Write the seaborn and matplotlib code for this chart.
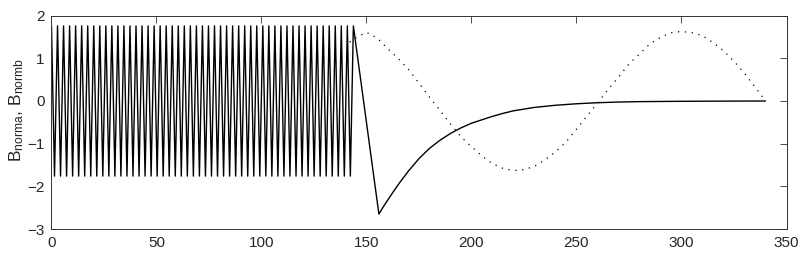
"""
B_norma / B_normb 曲线图
"""

import matplotlib
matplotlib.use("Agg")
import matplotlib.pyplot as plt
import pandas as pd
import seaborn as sns

# 实线振荡段: 峰值与谷值所在的 x
osc_peak_x = [0, 2.88, 5.75, 8.63, 11.5, 14.38, 17.25, 20.13, 23, 25.88,
              28.75, 31.63, 34.5, 37.38, 40.25, 43.13, 46, 48.88, 51.75,
              54.63, 57.5, 60.38, 63.25, 66.13, 69, 71.88, 74.75, 77.63,
              80.5, 83.38, 86.25, 89.13, 92, 94.88, 97.75, 100.63, 103.5,
              106.38, 109.25, 112.13, 115, 117.88, 120.75, 123.63, 126.5,
              129.38, 132.25, 135.13, 138, 140.88, 143.75]
osc_trough_x = [1.44, 4.31, 7.19, 10.06, 12.94, 15.81, 18.69, 21.56, 24.44,
                27.31, 30.19, 33.06, 35.94, 38.81, 41.69, 44.56, 47.44,
                50.31, 53.19, 56.06, 58.94, 61.81, 64.69, 67.56, 70.44,
                73.31, 76.19, 79.06, 81.94, 84.81, 87.69, 90.56, 93.44,
                96.31, 99.19, 102.06, 104.94, 107.81, 110.69, 113.56, 116.44,
                119.31, 122.19, 125.06, 127.94, 130.81, 133.69, 136.56,
                139.44, 142.31]
osc_peak_y = 1.76
osc_trough_y = -1.76

# 实线衰减段
tail_x = [155.9, 158, 160, 163, 166, 170, 175, 180, 185, 190, 195, 200,
          205, 210, 215, 220, 230, 240, 250, 260, 270, 280, 300, 320, 340]
tail_y = [-2.65, -2.48, -2.33, -2.11, -1.90, -1.64, -1.35, -1.11, -0.92,
          -0.76, -0.63, -0.52, -0.44, -0.36, -0.29, -0.23, -0.15, -0.10,
          -0.065, -0.04, -0.025, -0.015, -0.007, -0.003, 0.0]

# 虚线 (振荡段之后可见部分)
dot_x = [142, 145, 150, 155, 160, 165, 170, 175, 180, 185, 190, 195, 200,
         205, 210, 215, 220, 225, 230, 235, 240, 245, 250, 255, 260, 265,
         270, 275, 280, 285, 290, 295, 300, 305, 310, 315, 320, 325, 330,
         335, 340]
dot_y = [1.38, 1.48, 1.61, 1.48, 1.23, 1.00, 0.74, 0.42, 0.09, -0.22,
         -0.54, -0.84, -1.07, -1.29, -1.47, -1.58, -1.63, -1.61, -1.53,
         -1.38, -1.19, -0.96, -0.66, -0.35, -0.05, 0.27, 0.56, 0.87, 1.10,
         1.34, 1.49, 1.60, 1.63, 1.60, 1.53, 1.37, 1.18, 0.93, 0.65, 0.33,
         0.0]

x_ticks = [0, 50, 100, 150, 200, 250, 300, 350]
y_ticks = [-3, -2, -1, 0, 1, 2]
y_label = r"B$_{\mathrm{norma}}$, B$_{\mathrm{normb}}$"


def build_solid():
    """振荡段 + 衰减段拼成一条实线"""
    pts = [(x, osc_peak_y) for x in osc_peak_x]
    pts += [(x, osc_trough_y) for x in osc_trough_x]
    pts.sort()
    pts += list(zip(tail_x, tail_y))
    return pd.DataFrame(pts, columns=["x", "y"])


sns.set_style("white")
plt.rcParams["font.family"] = ["Liberation Sans", "DejaVu Sans"]
plt.rcParams["mathtext.fontset"] = "custom"
plt.rcParams["mathtext.rm"] = "Liberation Sans"
plt.rcParams["mathtext.it"] = "Liberation Sans:italic"

fig = plt.figure(figsize=(8.07, 2.61), dpi=100)
ax = fig.add_axes([0.0638, 0.1226, 0.9108, 0.8174])

solid = build_solid()
dotted = pd.DataFrame({"x": dot_x, "y": dot_y})

sns.lineplot(data=dotted, x="x", y="y", ax=ax, color="black", lw=0.9,
             linestyle=(0, (1, 4.5)), estimator=None, sort=False)
sns.lineplot(data=solid, x="x", y="y", ax=ax, color="black", lw=1.0,
             estimator=None, sort=False)

ax.set_xlim(0, 350)
ax.set_ylim(-3, 2)
ax.set_xticks(x_ticks)
ax.set_yticks(y_ticks)
ax.set_xlabel("")
ax.set_ylabel(y_label, fontsize=12.5)
ax.yaxis.set_label_coords(-0.034, 0.56)
ax.tick_params(direction="in", length=5, width=0.6, top=True, right=True,
               labelsize=11, color="#333333", pad=5)
for s in ax.spines.values():
    s.set_linewidth(0.7)
    s.set_color("#333333")

fig.savefig("out.png", dpi=100)
plt.close(fig)
